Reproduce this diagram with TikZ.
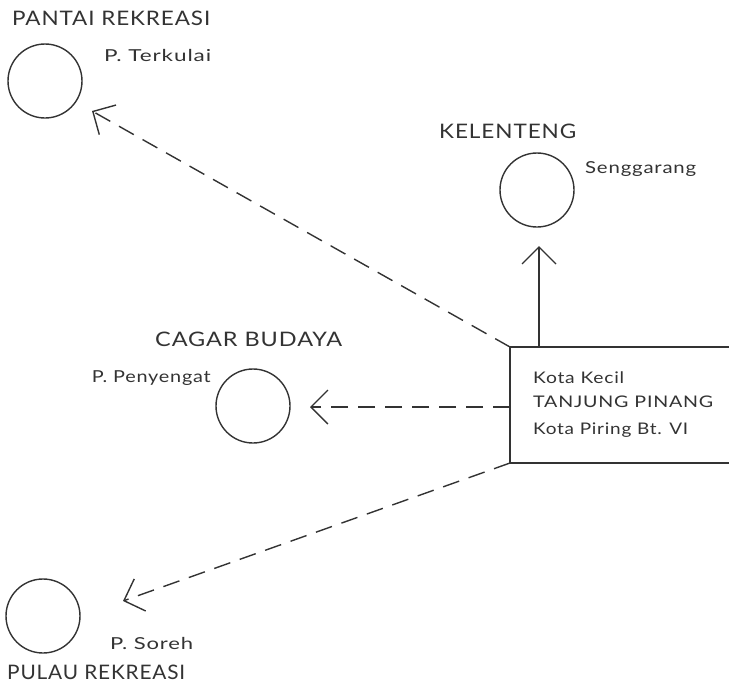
\documentclass[tikz,border=0pt]{standalone}
\usepackage{fontspec}
\usepackage{graphicx}
\setmainfont{Lato}[LetterSpace=4]
\usetikzlibrary{arrows.meta}
\definecolor{ink}{HTML}{333333}
\newcommand{\fitto}[2]{\resizebox{#1}{\height}{#2}}
\tikzset{
  site/.style={circle, draw=ink, line width=1.4pt, minimum size=74pt, inner sep=0pt},
  head/.style={font=\fontsize{20}{22}\selectfont, text=ink, inner sep=0pt, anchor=base west},
  lbl/.style={font=\fontsize{16.5}{18}\selectfont, text=ink, inner sep=0pt, anchor=base west},
  boxtxt/.style={font=\fontsize{16}{18}\selectfont, text=ink, inner sep=0pt, anchor=base west},
  conn/.style={draw=ink, line width=1.4pt, -{Straight Barb[length=17pt,width=34pt,line width=1.4pt]}},
  dashconn/.style={conn, dash pattern=on 17pt off 10pt},
  frame/.style={draw=ink, line width=1.4pt}
}
\begin{document}
\begin{tikzpicture}[x=1pt,y=-1pt]
\useasboundingbox (0,0) rectangle (729,689);
% circles
\node[site] (terkulai) at (45,81) {};
\node[site] (kelenteng) at (537,190) {};
\node[site] (penyengat) at (253,406) {};
\node[site] (soreh) at (43,616) {};
% texts
\node[head] (t1) at (12,25) {\fitto{198pt}{PANTAI REKREASI}};
\node[lbl] (t2) at (104,61) {\fitto{107pt}{P. Terkulai}};
\node[head] (t3) at (439,138) {\fitto{137pt}{KELENTENG}};
\node[lbl] (t4) at (585,173) {\fitto{111pt}{Senggarang}};
\node[head] (t5) at (155,346) {\fitto{187pt}{CAGAR BUDAYA}};
\node[lbl, anchor=base east] (t6) at (211,382) {\fitto{119pt}{P. Penyengat}};
\node[lbl] (t7) at (110,649) {\fitto{83pt}{P. Soreh}};
\node[head] (t8) at (7,679) {\fitto{178pt}{PULAU REKREASI}};
% box
\coordinate (boxTL) at (510,347);
\coordinate (boxBL) at (510,463);
\coordinate (boxTR) at (735,347);
\coordinate (boxBR) at (735,463);
\draw[frame] (boxTR) -- (boxTL) -- (boxBL) -- (boxBR);
\node[boxtxt] (b1) at (533,383) {\fitto{91pt}{Kota Kecil}};
\node[boxtxt] (b2) at (533,407) {\fitto{180pt}{TANJUNG PINANG}};
\node[boxtxt] (b3) at (533,434) {\fitto{155pt}{Kota Piring Bt. VI}};
% connector end points
\coordinate (kelFrom) at (539,347);
\coordinate (kelTip) at (539,246);
\coordinate (penFrom) at (510,407);
\coordinate (penTip) at (310,407);
\coordinate (terTip) at (92,111);
\coordinate (sorTip) at (123,601);
% connectors
\draw[conn] (kelFrom) -- (kelTip);
\draw[dashconn] (boxTL) -- (terTip);
\draw[dashconn] (penFrom) -- (penTip);
\draw[dashconn] (boxBL) -- (sorTip);
\end{tikzpicture}
\end{document}
